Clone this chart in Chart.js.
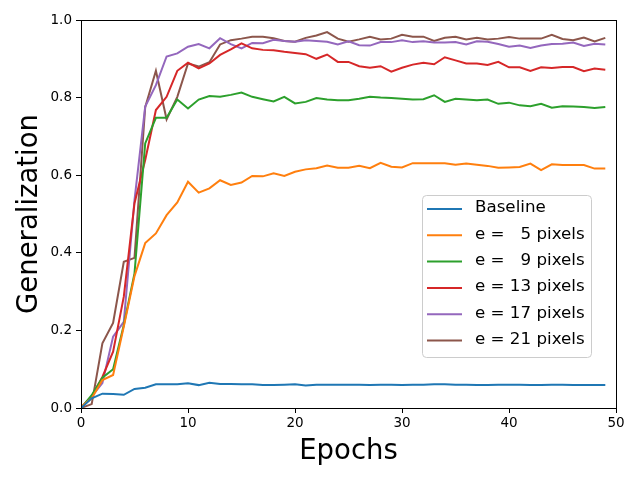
<!DOCTYPE html>
<html>
<head>
<meta charset="utf-8">
<script src="https://cdn.jsdelivr.net/npm/chart.js@4/dist/chart.umd.min.js"></script>
<style>
  html, body { margin: 0; padding: 0; background: #fff; }
  #wrap { width: 640px; height: 480px; }
</style>
</head>
<body>
<div id="wrap"><canvas id="genChart"></canvas></div>
<script>
const epochs = [0, 1, 2, 3, 4, 5, 6, 7, 8, 9, 10, 11, 12, 13, 14, 15, 16, 17, 18, 19,
  20, 21, 22, 23, 24, 25, 26, 27, 28, 29, 30, 31, 32, 33, 34, 35, 36, 37, 38, 39,
  40, 41, 42, 43, 44, 45, 46, 47, 48, 49];

// \u2007 = figure space (digit width), keeps the numbers right-aligned
const seriesNames = ['Baseline', 'e = \u20075 pixels', 'e = \u20079 pixels', 'e = 13 pixels', 'e = 17 pixels', 'e = 21 pixels'];
const seriesColors = ['#1f77b4', '#ff7f0e', '#2ca02c', '#d62728', '#9467bd', '#8c564b'];

const baseline = [0.0, 0.025, 0.037, 0.036, 0.034, 0.049, 0.052, 0.061, 0.061, 0.061,
  0.064, 0.059, 0.065, 0.062, 0.062, 0.061, 0.061, 0.059, 0.059, 0.060,
  0.061, 0.058, 0.060, 0.060, 0.060, 0.060, 0.060, 0.059, 0.060, 0.060,
  0.059, 0.060, 0.060, 0.061, 0.061, 0.060, 0.060, 0.059, 0.059, 0.060,
  0.060, 0.060, 0.059, 0.059, 0.060, 0.060, 0.059, 0.059, 0.059, 0.059];
const e5 = [0.003, 0.025, 0.072, 0.085, 0.21, 0.34, 0.425, 0.45, 0.497, 0.53,
  0.583, 0.555, 0.566, 0.587, 0.575, 0.581, 0.598, 0.597, 0.605, 0.598,
  0.609, 0.615, 0.618, 0.625, 0.619, 0.619, 0.624, 0.618, 0.632, 0.622,
  0.62, 0.631, 0.631, 0.631, 0.631, 0.627, 0.63, 0.627, 0.624, 0.619,
  0.62, 0.621, 0.63, 0.613, 0.628, 0.626, 0.626, 0.626, 0.617, 0.617];
const e9 = [0.0, 0.033, 0.078, 0.1, 0.214, 0.347, 0.682, 0.748, 0.748, 0.795,
  0.772, 0.795, 0.804, 0.802, 0.807, 0.813, 0.802, 0.796, 0.79, 0.802,
  0.785, 0.789, 0.799, 0.795, 0.793, 0.793, 0.797, 0.802, 0.8, 0.799,
  0.797, 0.795, 0.796, 0.806, 0.789, 0.797, 0.795, 0.793, 0.795, 0.784,
  0.787, 0.78, 0.778, 0.784, 0.774, 0.778, 0.777, 0.776, 0.773, 0.776];
const e13 = [0.0, 0.03, 0.08, 0.145, 0.287, 0.528, 0.639, 0.768, 0.802, 0.869,
  0.89, 0.875, 0.888, 0.91, 0.924, 0.94, 0.927, 0.923, 0.922, 0.918,
  0.915, 0.912, 0.9, 0.911, 0.892, 0.892, 0.881, 0.877, 0.881, 0.867,
  0.877, 0.885, 0.89, 0.886, 0.904, 0.896, 0.888, 0.888, 0.884, 0.892,
  0.878, 0.878, 0.869, 0.878, 0.876, 0.879, 0.879, 0.868, 0.875, 0.872];
const e17 = [0.0, 0.03, 0.064, 0.184, 0.222, 0.536, 0.777, 0.832, 0.906, 0.914,
  0.931, 0.938, 0.927, 0.953, 0.938, 0.927, 0.941, 0.94, 0.949, 0.946,
  0.944, 0.948, 0.946, 0.944, 0.937, 0.945, 0.935, 0.934, 0.943, 0.943,
  0.948, 0.943, 0.945, 0.942, 0.942, 0.943, 0.937, 0.945, 0.944, 0.938,
  0.931, 0.934, 0.928, 0.934, 0.938, 0.939, 0.942, 0.933, 0.939, 0.937];
const e21 = [0.0, 0.01, 0.167, 0.219, 0.377, 0.387, 0.775, 0.869, 0.744, 0.802,
  0.888, 0.88, 0.891, 0.937, 0.948, 0.952, 0.957, 0.957, 0.953, 0.946,
  0.944, 0.954, 0.96, 0.969, 0.952, 0.944, 0.95, 0.957, 0.95, 0.952,
  0.962, 0.957, 0.957, 0.946, 0.954, 0.957, 0.95, 0.954, 0.95, 0.952,
  0.956, 0.952, 0.952, 0.952, 0.962, 0.951, 0.948, 0.955, 0.945, 0.954];

const allSeries = [baseline, e5, e9, e13, e17, e21];
const FONT = "'DejaVu Sans', sans-serif";

// matplotlib-like frame: all four spines
const frame = {
  id: 'frame',
  afterDraw(chart) {
    const { ctx, chartArea: a } = chart;
    ctx.save();
    ctx.strokeStyle = '#000';
    ctx.lineWidth = 1;
    ctx.strokeRect(Math.round(a.left) + 0.5, Math.round(a.top) + 0.5,
      Math.round(a.right - a.left), Math.round(a.bottom - a.top));
    ctx.restore();
  }
};

// legend box inside the plot, lower right
const boxLegend = {
  id: 'boxLegend',
  afterDraw(chart) {
    const { ctx, chartArea: a } = chart;
    const sets = chart.data.datasets;
    const rowH = 26.3;
    const w = 169, h = 162;
    const x = a.right - 25 - w, y = 195;
    ctx.save();
    ctx.beginPath();
    ctx.roundRect(x + 0.5, y + 0.5, w, h, 4);
    ctx.fillStyle = 'rgba(255,255,255,0.8)';
    ctx.fill();
    ctx.strokeStyle = '#cccccc';
    ctx.lineWidth = 1;
    ctx.stroke();
    ctx.font = '16.7px ' + FONT;
    ctx.textBaseline = 'middle';
    ctx.fillStyle = '#000';
    sets.forEach((ds, i) => {
      const cy = y + 14 + rowH * i;
      ctx.beginPath();
      ctx.moveTo(x + 5, cy);
      ctx.lineTo(x + 40, cy);
      ctx.strokeStyle = ds.borderColor;
      ctx.lineWidth = 2;
      ctx.stroke();
      ctx.fillText(ds.label, x + 53, cy - 1);
    });
    ctx.restore();
  }
};

new Chart(document.getElementById('genChart').getContext('2d'), {
  type: 'line',
  data: {
    datasets: allSeries.map((vals, i) => ({
      label: seriesNames[i],
      data: epochs.map((ep, j) => ({ x: ep, y: vals[j] })),
      borderColor: seriesColors[i],
      backgroundColor: seriesColors[i],
      borderWidth: 2,
      pointRadius: 0,
      tension: 0,
      fill: false
    }))
  },
  options: {
    responsive: true,
    maintainAspectRatio: false,
    animation: false,
    layout: { padding: { top: 20, right: 24, left: 0, bottom: 0 } },
    plugins: {
      legend: { display: false },
      tooltip: { enabled: false }
    },
    scales: {
      x: {
        type: 'linear',
        min: 0,
        max: 50,
        afterFit(scale) { scale.height = 72; },
        grid: { display: true, drawOnChartArea: false, tickLength: 5, tickColor: '#000' },
        border: { display: false },
        ticks: { stepSize: 10, color: '#000', padding: 2, maxRotation: 0, font: { family: FONT, size: 13.5 } },
        title: { display: true, text: 'Epochs', color: '#000', padding: { top: 0, bottom: 12 }, font: { family: FONT, size: 27.5 } }
      },
      y: {
        min: 0,
        max: 1,
        afterFit(scale) { scale.width = 81; },
        grid: { display: true, drawOnChartArea: false, tickLength: 5, tickColor: '#000' },
        border: { display: false },
        ticks: {
          stepSize: 0.2,
          color: '#000',
          padding: 4,
          font: { family: FONT, size: 13.5 },
          callback: v => v.toFixed(1)
        },
        title: { display: true, text: 'Generalization', color: '#000', padding: { top: 13, bottom: 0 }, font: { family: FONT, size: 27.5 } }
      }
    }
  },
  plugins: [frame, boxLegend]
});
</script>
</body>
</html>
